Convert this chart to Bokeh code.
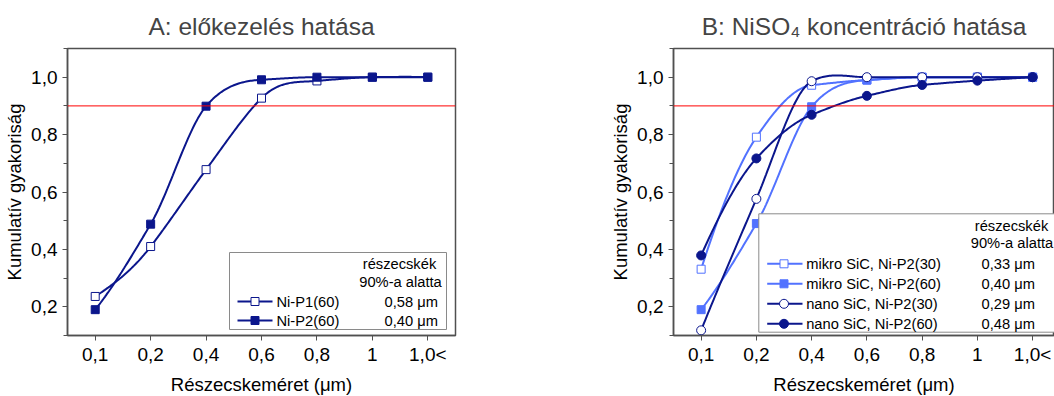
import numpy as np
from bokeh.plotting import figure
from bokeh.layouts import row
from bokeh.models import Range1d, FixedTicker, Span
from bokeh.core.properties import value
from bokeh.embed import file_html
from bokeh.resources import INLINE

# ---------------- data ----------------
SIZES = ["0,1", "0,2", "0,4", "0,6", "0,8", "1", "1,0<"]
Y_TICKS = [0.2, 0.4, 0.6, 0.8, 1.0]
Y_TICK_LABELS = ["0,2", "0,4", "0,6", "0,8", "1,0"]
Y_MINOR = [0.1, 0.3, 0.5, 0.7, 0.9, 1.1]
THRESHOLD = 0.9

A_NIP1_60 = [0.236, 0.41, 0.678, 0.927, 0.987, 1.0, 1.0]
A_NIP2_60 = [0.19, 0.488, 0.899, 0.991, 1.0, 1.0, 1.0]
A_NAMES = ["Ni-P1(60)", "Ni-P2(60)"]
A_D90 = ["0,58 μm", "0,40 μm"]

B_MIKRO_30 = [0.331, 0.791, 0.972, 0.99, 1.0, 1.0, 1.0]
B_MIKRO_60 = [0.19, 0.49, 0.897, 0.99, 1.0, 1.0, 1.0]
B_NANO_30 = [0.118, 0.576, 0.986, 1.0, 1.0, 1.0, 1.0]
B_NANO_60 = [0.379, 0.717, 0.869, 0.935, 0.973, 0.988, 1.0]
B_NAMES = ["mikro SiC, Ni-P2(30)", "mikro SiC, Ni-P2(60)",
           "nano SiC, Ni-P2(30)", "nano SiC, Ni-P2(60)"]
B_D90 = ["0,33 μm", "0,40 μm", "0,29 μm", "0,48 μm"]

LEGEND_HEADER = ["részecskék", "90%-a alatta"]

# ---------------- style ----------------
NAVY = "#0b168c"
LIGHT = "#5272ff"
FONT = "Liberation Sans"
FRAME_TOP = 48
FRAME_H = 287
Y0, Y1 = 0.1, 1.1


def akima(ys, n=40):
    """Smooth connecting curve through the points (Akima spline)."""
    y = np.asarray(ys, dtype=float)
    N = len(y)
    d = np.diff(y)
    dm1 = 2 * d[0] - d[1]
    dm2 = 2 * dm1 - d[0]
    dp1 = 2 * d[-1] - d[-2]
    dp2 = 2 * dp1 - d[-1]
    D = np.concatenate([[dm2, dm1], d, [dp1, dp2]])
    tg = np.zeros(N)
    for i in range(N):
        w1 = abs(D[i + 3] - D[i + 2])
        w2 = abs(D[i + 1] - D[i])
        if w1 + w2 < 1e-12:
            tg[i] = 0.5 * (D[i + 1] + D[i + 2])
        else:
            tg[i] = (w1 * D[i + 1] + w2 * D[i + 2]) / (w1 + w2)
    xs, out = [], []
    for i in range(N - 1):
        t = np.linspace(0, 1, n, endpoint=(i == N - 2))
        h00 = 2 * t ** 3 - 3 * t ** 2 + 1
        h10 = t ** 3 - 2 * t ** 2 + t
        h01 = -2 * t ** 3 + 3 * t ** 2
        h11 = t ** 3 - t ** 2
        s = h00 * y[i] + h10 * tg[i] + h01 * y[i + 1] + h11 * tg[i + 1]
        xs.extend(list(i + t))
        out.extend(list(s))
    return xs, out


def py2y(py):
    return Y1 - (py - FRAME_TOP) / FRAME_H * (Y1 - Y0)


def make_fig(title, frame_w, left, right, x_end, offset):
    p = figure(frame_width=frame_w, frame_height=FRAME_H,
               min_border_left=left, min_border_right=right,
               min_border_top=FRAME_TOP, min_border_bottom=396 - FRAME_TOP - FRAME_H,
               x_range=Range1d(-0.5, x_end), y_range=Range1d(Y0, Y1),
               toolbar_location=None, output_backend="svg", title=title)
    p.title.text_font = FONT
    p.title.text_font_size = "24.5px"
    p.title.text_font_style = "normal"
    p.title.align = "center"
    p.title.offset = offset
    p.title.standoff = 18
    p.grid.visible = False
    p.outline_line_color = "#505050"
    p.outline_line_width = 1.5
    p.background_fill_color = "white"
    p.border_fill_color = "white"

    p.xaxis.ticker = FixedTicker(ticks=list(range(len(SIZES))), minor_ticks=[])
    p.xaxis.major_label_overrides = {i: s for i, s in enumerate(SIZES)}
    p.yaxis.ticker = FixedTicker(ticks=Y_TICKS, minor_ticks=Y_MINOR)
    p.yaxis.major_label_overrides = {t: s for t, s in zip(Y_TICKS, Y_TICK_LABELS)}
    for ax in (p.xaxis, p.yaxis):
        ax.axis_line_color = "#505050"
        ax.axis_line_width = 1.5
        ax.major_tick_line_color = "#505050"
        ax.minor_tick_line_color = "#505050"
        ax.major_tick_in = 0
        ax.major_tick_out = 5
        ax.minor_tick_in = 0
        ax.minor_tick_out = 4
        ax.major_label_text_font = FONT
        ax.major_label_text_font_size = "19px"
        ax.major_label_text_color = "black"
        ax.axis_label_text_font = FONT
        ax.axis_label_text_font_size = "18.5px"
        ax.axis_label_text_font_style = "normal"
        ax.axis_label_text_color = "black"
    p.xaxis.axis_label = "Részecskeméret (μm)"
    p.yaxis.axis_label = "Kumulatív gyakoriság"
    p.xaxis.major_label_standoff = 3
    p.xaxis.axis_label_standoff = 6
    p.yaxis.major_label_standoff = 5
    p.yaxis.axis_label_standoff = 3
    p.add_layout(Span(location=THRESHOLD, dimension="width",
                      line_color="#ff0000", line_width=1))
    return p


def series(p, ys, color, marker, filled, size):
    xs, yy = akima(ys)
    p.line(xs, yy, line_color=color, line_width=2)
    p.scatter(list(range(len(ys))), ys, marker=marker, size=size,
              fill_color=color if filled else "white",
              line_color=color, line_width=1)


def text(p, xs, ys, txt, align):
    p.text(x=xs, y=ys, text=txt, text_font=value(FONT),
           text_font_size=value("14.7px"), text_baseline="middle",
           text_align=align, text_color="black")


# ---------------- panel A ----------------
A_LEFT, A_W = 67, 388
ua = A_W / 7.0


def pxa(px):
    return -0.5 + (px - A_LEFT) / ua


pA = make_fig("A: előkezelés hatása", A_W, A_LEFT, 527 - A_LEFT - A_W, 6.5, 10)
series(pA, A_NIP1_60, NAVY, "square", False, 8)
series(pA, A_NIP2_60, NAVY, "square", True, 8)

pA.quad(left=pxa(229), right=pxa(446), top=py2y(252), bottom=py2y(329),
        fill_color="white", line_color="#8a8a8a", line_width=1)
text(pA, [pxa(399), pxa(400)], [py2y(263), py2y(281)], LEGEND_HEADER, "center")
rows_a = [py2y(301), py2y(320)]
pA.segment(x0=[pxa(237)] * 2, x1=[pxa(272)] * 2, y0=rows_a, y1=rows_a,
           line_color=NAVY, line_width=2)
pA.scatter([pxa(254.5)], [rows_a[0]], marker="square", size=8,
           fill_color="white", line_color=NAVY, line_width=1)
pA.scatter([pxa(254.5)], [rows_a[1]], marker="square", size=8,
           fill_color=NAVY, line_color=NAVY, line_width=1)
text(pA, [pxa(276)] * 2, rows_a, A_NAMES, "left")
text(pA, [pxa(384)] * 2, rows_a, A_D90, "left")

# ---------------- panel B ----------------
B_LEFT, B_W = 146, 381
ub = 55.25
B_X0 = 527 + B_LEFT


def pxb(px):
    return -0.5 + (px - B_X0) / ub


pB = make_fig("B: NiSO₄ koncentráció hatása", B_W, B_LEFT, 0,
              -0.5 + B_W / ub, 7)
series(pB, B_MIKRO_30, LIGHT, "square", False, 8)
series(pB, B_MIKRO_60, LIGHT, "square", True, 8)
series(pB, B_NANO_30, NAVY, "circle", False, 9)
series(pB, B_NANO_60, NAVY, "circle", True, 9)

pB.quad(left=pxb(758.3), right=pxb(1070), top=py2y(213.3), bottom=py2y(331.7),
        fill_color="white", line_color="#8a8a8a", line_width=1)
text(pB, [pxb(1011), pxb(1011.5)], [py2y(225), py2y(242.3)], LEGEND_HEADER, "center")
rows_b = [py2y(263.3), py2y(283.3), py2y(303.3), py2y(323.3)]
cols_b = [LIGHT, LIGHT, NAVY, NAVY]
marks_b = ["square", "square", "circle", "circle"]
fills_b = [False, True, False, True]
pB.segment(x0=[pxb(766.7)] * 4, x1=[pxb(802)] * 4, y0=rows_b, y1=rows_b,
           line_color=cols_b, line_width=2)
for yy, c, m, f in zip(rows_b, cols_b, marks_b, fills_b):
    pB.scatter([pxb(783.5)], [yy], marker=m, size=8 if m == "square" else 9,
               fill_color=c if f else "white", line_color=c, line_width=1)
text(pB, [pxb(805.7)] * 4, rows_b, B_NAMES, "left")
text(pB, [pxb(981)] * 4, rows_b, B_D90, "left")

layout = row(pA, pB, spacing=0)
open("out.html", "w").write(file_html(layout, INLINE))
